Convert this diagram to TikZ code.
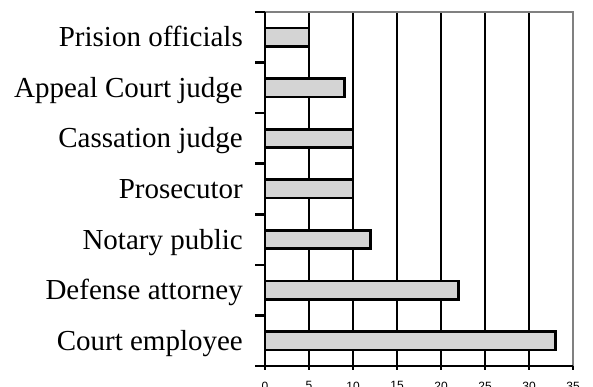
\documentclass[tikz,border=0pt]{standalone}
\usepackage{fontspec}
\setmainfont{Liberation Serif}
\newfontfamily\axisfont{Liberation Sans}
\begin{document}
\begin{tikzpicture}[x=1pt,y=-1pt,
  catlabel/.style={anchor=base east,inner sep=0pt,font=\fontsize{29}{31}\selectfont},
  numlabel/.style={anchor=north,inner sep=0pt,font=\axisfont\fontsize{12}{14}\selectfont},
  barbox/.style={draw=black,line width=2.6pt,fill=black!17},
  grid line/.style={draw=black,line width=2.6pt},
  frame line/.style={draw=black!50,line width=2.6pt},
  axis line/.style={draw=black,line width=2.6pt}]
\useasboundingbox (0,0) rectangle (593,387);
% plot area: x0 = 265, 8.8 units per value; rows 50.57 high starting at 12
\def\xo{265}\def\xs{8.8}\def\yt{12}\def\yb{366}\def\rowh{50.57}
% vertical grid lines
\foreach \v in {5,10,...,30}
  \draw[grid line] ({\xo+\xs*\v},\yt) -- ({\xo+\xs*\v},\yb);
% gray frame on top and right
\draw[frame line] (\xo,\yt) -- (573,\yt) -- (573,\yb);
% bars and category labels
\foreach \i/\val/\txt in {0/5/Prision officials,1/9/Appeal Court judge,2/10/Cassation judge,3/10/Prosecutor,4/12/Notary public,5/22/Defense attorney,6/33/Court employee}{
  \pgfmathsetmacro{\yc}{\yt+\rowh*(\i+0.5)}
  \draw[barbox] (\xo,\yc-9.2) rectangle ({\xo+\xs*\val},\yc+9.2);
  \node[catlabel] (lab\i) at (243,\yc+9.5) {\txt};
}
% axes
\draw[axis line] (\xo,\yt) -- (\xo,\yb) -- (573,\yb);
\foreach \k in {0,...,7}
  \draw[axis line] (255,{\yt+\rowh*\k}) -- (\xo,{\yt+\rowh*\k});
\foreach \v in {0,5,...,35}{
  \draw[axis line] ({\xo+\xs*\v},\yb) -- ({\xo+\xs*\v},\yb+4);
  \node[numlabel] (num\v) at ({\xo+\xs*\v},381.5) {\v};
}
\end{tikzpicture}
\end{document}
